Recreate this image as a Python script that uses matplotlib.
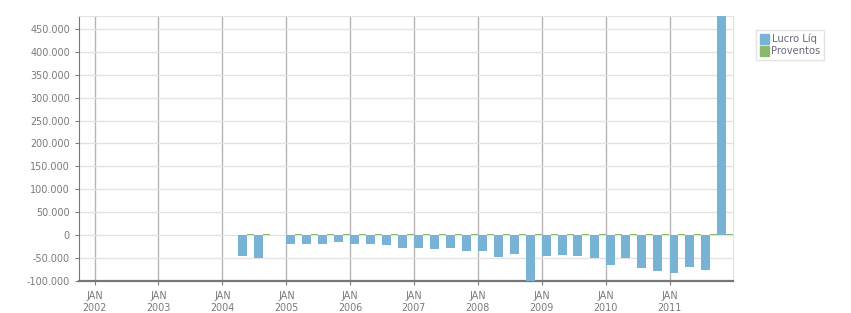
import pandas as pd
import matplotlib
matplotlib.use('Agg')
import matplotlib.pyplot as plt
import matplotlib.dates as mdates
import matplotlib.ticker as mticker
from matplotlib.patches import Patch

# trimestres (inicio) e valores
trimestres = ['2004-04-01', '2004-07-01'] + \
    [d.strftime('%Y-%m-%d') for d in pd.date_range('2005-01-01', periods=28, freq='QS')]
lucro_liq = [-47000, -50000,
             -20600, -20600, -20600, -16000,
             -20600, -20600, -22800, -29000,
             -29000, -31300, -29000, -35700,
             -35700, -49000, -42500, -100000,
             -47000, -45000, -47000, -50000,
             -67000, -50000, -73300, -80000,
             -84300, -71000, -78000, 479000]
proventos = [2000] * len(trimestres)

datas = pd.to_datetime(trimestres)
azul = '#78b2d5'
verde = '#8cb86c'
cinza_txt = '#7a7a7a'

fig = plt.figure(figsize=(8.51, 3.13), dpi=100)
ax = fig.add_axes([79 / 851, 1 - 281 / 313, (733 - 79) / 851, (281 - 16) / 313])

larg_azul = 51.4
larg_verde = 40.0
ax.bar(datas, lucro_liq, width=larg_azul, align='edge', color=azul, zorder=3, label='Lucro Líq')
ax.bar(datas + pd.Timedelta(days=larg_azul), proventos, width=larg_verde, align='edge',
       bottom=-1000, color=verde, zorder=3, label='Proventos')

ax.set_xlim(pd.Timestamp('2001-10-04'), pd.Timestamp('2011-12-30'))
ax.set_ylim(-101000, 479000)

ax.xaxis.set_major_locator(mdates.YearLocator())
ax.xaxis.set_major_formatter(mdates.DateFormatter('JAN\n%Y'))
ax.yaxis.set_major_locator(mticker.MultipleLocator(50000))
ax.yaxis.set_major_formatter(mticker.FuncFormatter(lambda v, p: f'{int(v):,}'.replace(',', '.')))

ax.grid(axis='y', color='#e2e2e2', linewidth=1, zorder=0)
ax.grid(axis='x', color='#b4b4b4', linewidth=1, zorder=0)

for lado in ['top', 'right']:
    ax.spines[lado].set_color('#e2e2e2')
ax.spines['left'].set_color('#777777')
ax.spines['bottom'].set_color('#777777')
ax.spines['bottom'].set_linewidth(1.6)

ax.tick_params(axis='both', colors='#808080', labelcolor=cinza_txt, labelsize=6.9, length=3)
ax.tick_params(axis='x', pad=4)
for t in ax.get_xticklabels():
    t.set_horizontalalignment('center')
    t.set_linespacing(1.3)

handles = [Patch(color=azul, label='Lucro Líq'), Patch(color=verde, label='Proventos')]
leg = fig.legend(handles=handles, loc='upper left', bbox_to_anchor=(756 / 851, 1 - 30 / 313),
                 fontsize=7.2, frameon=True, fancybox=False, handlelength=0.9, handleheight=1.2,
                 handletextpad=0.3, borderpad=0.35, labelspacing=0.15, borderaxespad=0)
leg.get_frame().set_edgecolor('#dddddd')
leg.get_frame().set_linewidth(1)
for t in leg.get_texts():
    t.set_color('#6a6a7a')

fig.savefig('out.png', dpi=100)
